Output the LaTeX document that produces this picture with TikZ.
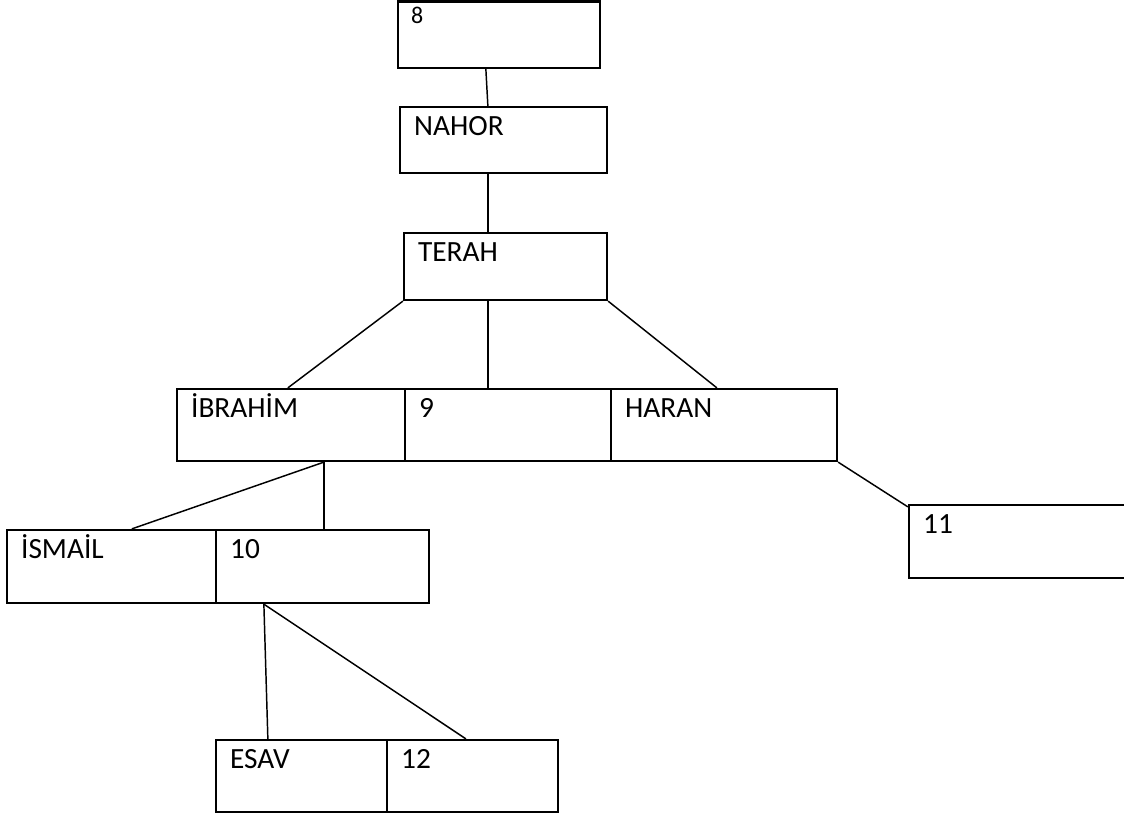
\documentclass[tikz,border=0pt]{standalone}
\usepackage{fontspec}
\setmainfont{Carlito}
\usetikzlibrary{positioning,calc,fit}

\begin{document}
\begin{tikzpicture}
  [x=0.75pt,y=-0.75pt,
   cell/.style={rectangle,draw,line width=1.7pt,inner sep=0pt},
   lbl/.style={anchor=base west,inner sep=0pt,font=\fontsize{22}{26}\selectfont},
   link/.style={line width=1.1pt}]
  \clip (0,0) rectangle (1124,818);

  % boxes
  \node[cell,fit={(398,1.5)(600,68)}] (b8) {};
  \node[cell,fit={(400,107)(607,173)}] (nahor) {};
  \node[cell,fit={(404,233)(607,300)}] (terah) {};
  \node[cell,fit={(177,389)(405,461)}] (ibrahim) {};
  \node[cell,fit={(405,389)(611,461)}] (b9) {};
  \node[cell,fit={(611,389)(837,461)}] (haran) {};
  \node[cell,fit={(909,505)(1140,578)}] (b11) {};
  \node[cell,fit={(7,530)(216,603)}] (ismail) {};
  \node[cell,fit={(216,530)(429,603)}] (b10) {};
  \node[cell,fit={(216,740)(387,812)}] (esav) {};
  \node[cell,fit={(387,740)(558,812)}] (b12) {};

  % names
  \node[lbl,font=\fontsize{18}{21}\selectfont] (t8) at ($(b8.north west)+(14,23)$) {8};
  \foreach \n/\t in {nahor/NAHOR, terah/TERAH, ibrahim/İBRAHİM, b9/9, haran/HARAN,
                     b11/11, ismail/İSMAİL, b10/10, esav/ESAV, b12/12}
    \node[lbl] (t\n) at ($(\n.north west)+(15,30)$) {\t};

  % links
  \draw[link] ($(b8.south west)+(89,0)$) -- ($(nahor.north west)+(89,0)$);
  \draw[link] ($(nahor.south west)+(89,0)$) -- ($(terah.north west)+(85,0)$);
  \draw[link] (terah.south west) -- ($(ibrahim.north west)+(112,0)$);
  \draw[link] ($(terah.south west)+(85,0)$) -- ($(b9.north west)+(84,0)$);
  \draw[link] (terah.south east) -- ($(haran.north west)+(107,0)$);
  \draw[link] (haran.south east) -- ($(b11.north west)+(0,3)$);
  \draw[link] ($(ibrahim.south west)+(148,0)$) -- ($(ismail.north west)+(126,0)$);
  \draw[link] ($(ibrahim.south west)+(148,0)$) -- ($(b10.north west)+(109,0)$);
  \draw[link] ($(b10.south west)+(49,0)$) -- ($(esav.north west)+(53,0)$);
  \draw[link] ($(b10.south west)+(49,0)$) -- ($(b12.north west)+(80,0)$);
\end{tikzpicture}
\end{document}
